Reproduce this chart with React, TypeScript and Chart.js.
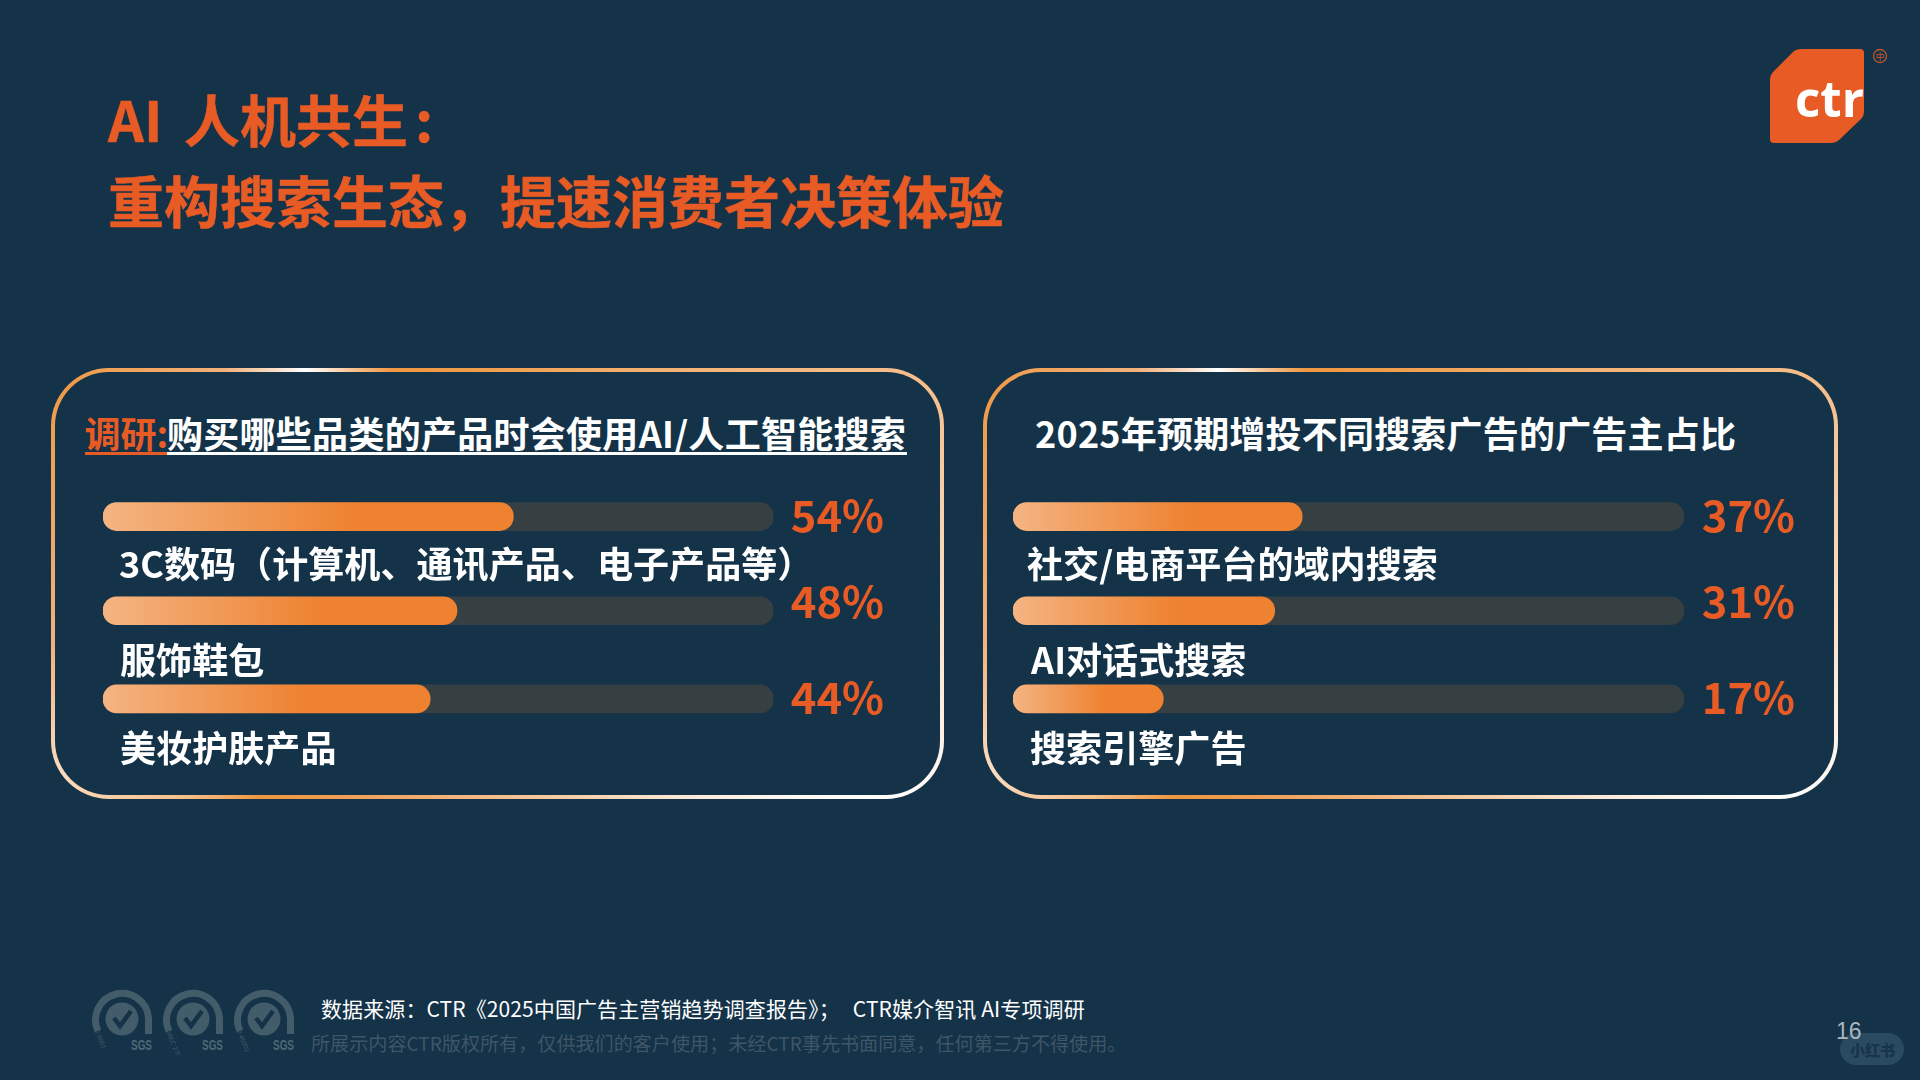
import React, { useEffect, useRef } from "react";
import { Chart, registerables } from "chart.js";

Chart.register(...registerables);

// ---- data ----
const leftCategories = ["3C数码（计算机、通讯产品、电子产品等）", "服饰鞋包", "美妆护肤产品"];
const leftLabels = ["54%", "48%", "44%"];
// filled share of the track, as drawn in the picture
const leftFill = [61.2, 52.8, 48.8];
const rightCategories = ["社交/电商平台的域内搜索", "AI对话式搜索", "搜索引擎广告"];
const rightLabels = ["37%", "31%", "17%"];
const rightFill = [43.1, 39, 22.4];
const trackFull = [100, 100, 100];

const FONT = '"Noto Sans CJK SC", "Noto Sans", sans-serif';
const BG = "#143248";
const ORANGE = "#E85B25";

type PanelChartProps = {
  categories: string[];
  labels: string[];
  fill: number[];
  left: number;
  width: number;
  padLeft: number;
  padRight: number;
  catX: number[];
  pctRight: number;
};

const ROW_NUDGE = [0, 3, 0];
const CAT_OFFSET = [47.3, 49.5, 49];
const PCT_OFFSET = [-1.2, -9.4, -1];
const TOP = 471;
const HEIGHT = 320;

function PanelChart(p: PanelChartProps) {
  const ref = useRef<HTMLCanvasElement>(null);
  useEffect(() => {
    const rowPlugin = {
      id: "rowPlugin",
      afterDatasetsUpdate(chart: any) {
        chart.data.datasets.forEach((_: any, di: number) => {
          chart.getDatasetMeta(di).data.forEach((el: any, i: number) => {
            el.y += ROW_NUDGE[i];
          });
        });
      },
      afterDatasetsDraw(chart: any) {
        const c = chart.ctx;
        const els = chart.getDatasetMeta(0).data;
        c.save();
        c.textBaseline = "middle";
        els.forEach((el: any, i: number) => {
          c.textAlign = "left";
          c.fillStyle = "#FFFFFF";
          c.font = `700 36.1px ${FONT}`;
          c.fillText(p.categories[i], p.catX[i], el.y + CAT_OFFSET[i]);
          c.textAlign = "right";
          c.fillStyle = ORANGE;
          c.font = `700 43.5px ${FONT}`;
          c.fillText(p.labels[i], p.pctRight, el.y + PCT_OFFSET[i]);
        });
        c.restore();
      },
    };
    const chart = new Chart(ref.current as HTMLCanvasElement, {
      type: "bar",
      plugins: [rowPlugin],
      data: {
        labels: p.categories,
        datasets: [
          {
            data: p.fill,
            backgroundColor: (ctx: any) => {
              const { chart: ch, parsed } = ctx;
              if (!ch.chartArea || !parsed) return "#EE8230";
              const x0 = ch.chartArea.left;
              const x1 = ch.scales.x.getPixelForValue(parsed.x);
              const g = ch.ctx.createLinearGradient(x0, 0, x1, 0);
              g.addColorStop(0, "#F4B482");
              g.addColorStop(0.62, "#EE8230");
              g.addColorStop(1, "#EE8230");
              return g;
            },
            borderRadius: 14,
            borderSkipped: false,
            barThickness: 28,
            grouped: false,
          },
          {
            data: trackFull,
            backgroundColor: "#363F42",
            borderRadius: 14,
            borderSkipped: false,
            barThickness: 28,
            grouped: false,
          },
        ],
      } as any,
      options: {
        indexAxis: "y",
        responsive: false,
        animation: false,
        events: [],
        layout: {
          padding: { left: p.padLeft, right: p.padRight, top: 0, bottom: HEIGHT - 273.5 },
        },
        plugins: { legend: { display: false }, tooltip: { enabled: false } },
        scales: {
          x: { min: 0, max: 100, display: false },
          y: { display: false },
        },
      } as any,
    });
    return () => chart.destroy();
  }, []);
  return (
    <canvas
      ref={ref}
      width={p.width}
      height={HEIGHT}
      style={{ position: "absolute", left: p.left, top: TOP, width: p.width, height: HEIGHT }}
    />
  );
}

function Frame({ left, width }: { left: number; width: number }) {
  return (
    <div
      style={{
        position: "absolute",
        left,
        top: 368,
        width,
        height: 431,
        boxSizing: "border-box",
        padding: 4,
        borderRadius: 58,
        background:
          "conic-gradient(from 0deg at 50% 50%, #F0A050 0deg, #F5BE8C 65deg, #FBE6D2 100deg, #FFFFFF 120deg, #F6CFA9 160deg, #F1A868 205deg, #EE9640 228deg, #F5C08C 236deg, #FBDCC0 246deg, #F3B27C 262deg, #EE9A48 295deg, #F3B27C 308deg, #FFFFFF 318deg, #F6C08C 326deg, #EE9640 334deg, #F0A050 360deg)",
      }}
    >
      <div style={{ width: "100%", height: "100%", borderRadius: 54, background: BG }} />
    </div>
  );
}

function Sgs({ x, iso }: { x: number; iso: string }) {
  const c = "#425C6A";
  return (
    <svg style={{ position: "absolute", left: x, top: 980 }} width="75" height="75" viewBox="0 0 75 75">
      <path d="M13 51 A26.5 26.5 0 1 1 63.5 38 L63.5 54" fill="none" stroke={c} strokeWidth="7" />
      <circle cx="37" cy="39" r="16.5" fill={c} />
      <path d="M29 38 L35 46 L46 31" fill="none" stroke={BG} strokeWidth="4.5" />
      <text x="7" y="44" transform="rotate(68 7 44)" fill={c} fontSize="6.5" fontFamily="Liberation Sans">{iso}</text>
      <text x="46" y="70" fill="#4E6A76" fontSize="14" fontWeight="700" fontFamily="Liberation Sans" textLength="21" lengthAdjust="spacingAndGlyphs">SGS</text>
    </svg>
  );
}

const abs = (x: number, cy: number, size: number, color: string, weight: number): React.CSSProperties => ({
  position: "absolute",
  left: x,
  top: cy - size,
  height: size * 2,
  lineHeight: `${size * 2}px`,
  fontSize: size,
  color,
  fontWeight: weight,
  fontFamily: FONT,
  whiteSpace: "nowrap",
});

export default function App() {
  const bold = { WebkitTextStroke: `0.5px ${ORANGE}` } as React.CSSProperties;
  return (
    <div style={{ position: "fixed", left: 0, top: 0, width: 1920, height: 1080, background: BG, overflow: "hidden" }}>
      <div style={{ ...abs(108, 118, 56, ORANGE, 700), ...bold }}>
        AI <span style={{ marginLeft: 9 }}>人机共生</span><span style={{ marginLeft: 7 }}>:</span>
      </div>
      <div style={{ ...abs(108, 199, 56, ORANGE, 700), ...bold }}>重构搜索生态，提速消费者决策体验</div>

      <svg style={{ position: "absolute", left: 1765, top: 44 }} width="130" height="104" viewBox="0 0 130 104">
        <path
          d="M5 35 Q5 31 8 28 L29 7 Q32 5 36 5 L95 5 Q99 5 99 9 L99 68 Q99 72 96 75 L74 96 Q71 99 67 99 L9 99 Q5 99 5 95 Z"
          fill="#E85B25"
        />
        <text x="30" y="73" fill="#fff" fontFamily="Open Sans, Liberation Sans" fontWeight="700" fontSize="50" textLength="69" lengthAdjust="spacingAndGlyphs">ctr</text>
        <circle cx="115" cy="12" r="6.5" fill="none" stroke="#C4562A" strokeWidth="1.3" />
        <text x="115" y="15.5" textAnchor="middle" fill="#C4562A" fontSize="9" fontFamily={FONT}>中</text>
      </svg>

      <Frame left={51} width={893} />
      <Frame left={983} width={855} />

      <div style={abs(84.5, 431.5, 36, ORANGE, 700)}>调研:</div>
      <div style={{ ...abs(167, 431.5, 36, "#FFFFFF", 700), letterSpacing: 0.28 }}>购买哪些品类的产品时会使用AI/人工智能搜索</div>
      <div style={{ position: "absolute", left: 85, top: 452, width: 82, height: 3, background: ORANGE }} />
      <div style={{ position: "absolute", left: 167, top: 452, width: 740, height: 3, background: "#FFFFFF" }} />
      <div style={{ ...abs(1035, 431.5, 36, "#FFFFFF", 700), letterSpacing: 0.2 }}>2025年预期增投不同搜索广告的广告主占比</div>

      <PanelChart
        categories={leftCategories}
        labels={leftLabels}
        fill={leftFill}
        left={52}
        width={892}
        padLeft={51}
        padRight={170.5}
        catX={[67, 68, 68]}
        pctRight={832}
      />
      <PanelChart
        categories={rightCategories}
        labels={rightLabels}
        fill={rightFill}
        left={983}
        width={855}
        padLeft={30}
        padRight={154}
        catX={[44, 48, 47]}
        pctRight={812}
      />

      <Sgs x={85} iso="ISO 9001" />
      <Sgs x={156} iso="ISO/IEC 27001" />
      <Sgs x={227} iso="ISO 45001" />
      <div style={{ ...abs(321, 1008, 21, "#FFFFFF", 400), letterSpacing: 0.1 }}>
        数据来源：CTR《2025中国广告主营销趋势调查报告》；<span style={{ marginLeft: 13 }}>CTR媒介智讯 AI专项调研</span>
      </div>
      <div style={abs(311, 1043, 19.1, "#3E5666", 400)}>所展示内容CTR版权所有，仅供我们的客户使用；未经CTR事先书面同意，任何第三方不得使用。</div>
      <div style={{ position: "absolute", left: 1840, top: 1033, width: 64, height: 32, borderRadius: 16, background: "#2A4A60" }} />
      <div style={{ ...abs(1850, 1050, 15, "#17344B", 900), letterSpacing: 0 }}>小红书</div>
      <div style={{ ...abs(1836, 1031, 23, "#AAB6BE", 400), fontFamily: "Liberation Sans" }}>16</div>
    </div>
  );
}
